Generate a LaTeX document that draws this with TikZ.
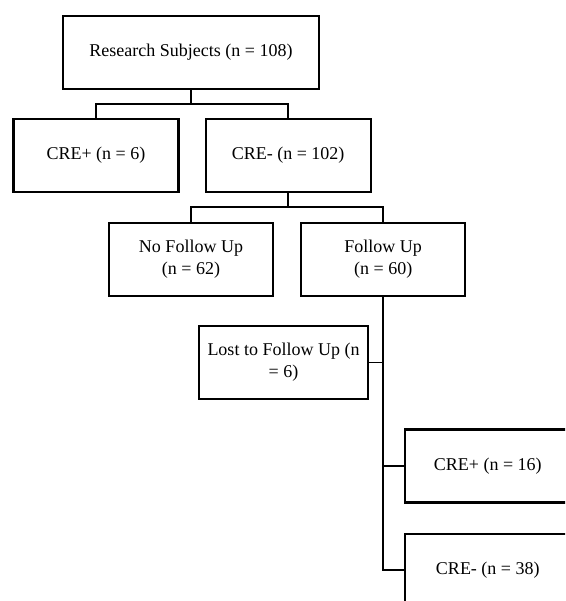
\documentclass[tikz,border=0pt]{standalone}
\usepackage{fontspec}
\setmainfont{Liberation Serif}
\usepackage{tikz}
\usetikzlibrary{positioning}

\begin{document}
\begin{tikzpicture}[
    x=1pt, y=-1pt,
    box/.style={rectangle, draw, line width=2.2pt, minimum width=165pt, minimum height=73pt,
        align=center, inner sep=2pt, font=\fontsize{18}{22}\selectfont},
    link/.style={line width=1.8pt}
]
    \useasboundingbox (0,0) rectangle (565,601);
    \clip (0,0) rectangle (565,601);

    \node[box, minimum width=256pt] (root) at (191,52.5) {Research Subjects (n = 108)};
    \node[box] (cpos) at (95.9,155.3) {CRE+ (n = 6)};
    \node[box, right=25pt of cpos] (cneg) {CRE- (n = 102)};
    \node[box, minimum width=164pt] (nofu) at (191,259.2) {No Follow Up\\(n = 62)};
    \node[box, minimum width=164pt, right=26pt of nofu] (fu) {Follow Up\\(n = 60)};
    \node[box, minimum width=169pt] (lost) at (283.5,362.5) {Lost to Follow Up (n\\= 6)};
    \node[box] (fpos) at (487.8,466) {CRE+ (n = 16)};
    \node[box, below=29pt of fpos] (fneg) {CRE- (n = 38)};

    % splits
    \draw[link] (root.south) -- ++(0,14) -| (cpos.north);
    \draw[link] (root.south) -- ++(0,14) -| (cneg.north);
    \draw[link] (cneg.south) -- ++(0,14.5) -| (nofu.north);
    \draw[link] (cneg.south) -- ++(0,14.5) -| (fu.north);

    % follow up branch
    \draw[link] (fu.south) -- (fu.south |- fneg.west) -- (fneg.west);
    \draw[link] (lost.east) -- (lost.east -| fu.south);
    \draw[link] (fpos.west) -- (fpos.west -| fu.south);
\end{tikzpicture}
\end{document}
